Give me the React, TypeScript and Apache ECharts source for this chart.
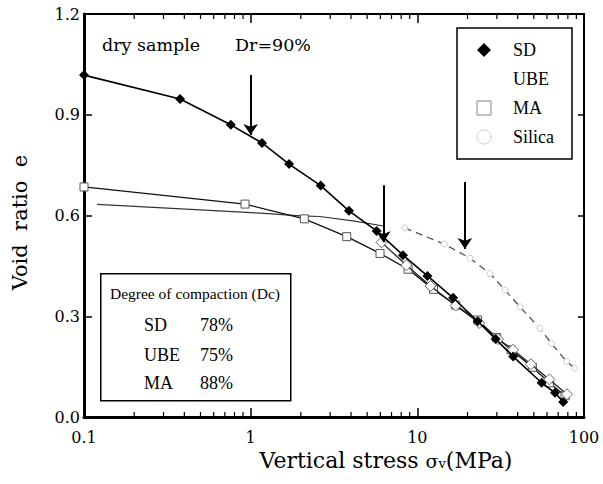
import React, { useEffect, useRef } from "react";
import * as echarts from "echarts";

// Vertical stress (MPa) / void ratio pairs
const sdStress = [0.1, 0.377, 0.76, 1.17, 1.7, 2.63, 3.89, 5.7, 8.2, 11.5, 16.4, 23, 29.5, 37.6, 55.7, 67, 75];
const sdVoid = [1.018, 0.947, 0.87, 0.816, 0.753, 0.689, 0.614, 0.554, 0.482, 0.42, 0.355, 0.285, 0.232, 0.18, 0.102, 0.072, 0.045];

const ubeStress = [6.1, 8.6, 12, 17, 23.5, 30.5, 37.5, 48, 62, 79];
const ubeVoid = [0.52, 0.452, 0.39, 0.332, 0.28, 0.232, 0.2, 0.157, 0.112, 0.068];

const maStress = [0.1, 0.925, 2.1, 3.77, 5.97, 8.8, 12.5, 17, 23, 29.9, 36.5, 49, 62, 77];
const maVoid = [0.685, 0.634, 0.59, 0.537, 0.487, 0.44, 0.38, 0.333, 0.289, 0.237, 0.2, 0.148, 0.102, 0.063];

const silicaLowStress = [0.12, 1.14, 2.0, 2.6, 4.2, 6.4];
const silicaLowVoid = [0.633, 0.607, 0.599, 0.597, 0.583, 0.568];
const silicaStress = [8.4, 14.5, 20.7, 27.3, 33.6, 41.3, 54.3, 63.8, 78.7, 88];
const silicaVoid = [0.563, 0.515, 0.473, 0.427, 0.378, 0.328, 0.264, 0.219, 0.165, 0.145];

// arrows marking yield points
const arrowX = [1, 6.25, 19.3];
const arrowTop = [1.018, 0.69, 0.7];
const arrowTip = [0.84, 0.52, 0.5];

// log-axis minor tick positions
const xMinorTicks = [0.2, 0.3, 0.4, 0.5, 0.6, 0.7, 0.8, 0.9, 2, 3, 4, 5, 6, 7, 8, 9, 20, 30, 40, 50, 60, 70, 80, 90];

const yTicks = { min: 0, max: 1.2, interval: 0.3 };

const dcMaterials = ["SD", "UBE", "MA"];
const dcValues = ["78%", "75%", "88%"];

const zip = (a: number[], b: number[]) => a.map((v, i) => [v, b[i]]);

export default function App() {
  const ref = useRef<HTMLDivElement>(null);
  useEffect(() => {
    if (!ref.current) return;
    const chart = echarts.init(ref.current, undefined, { renderer: "svg" });
    const serif = "DejaVu Serif";
    const times = "Liberation Serif";

    const dcGraphics: any[] = [
      {
        type: "rect",
        left: 100,
        top: 273,
        shape: { width: 190, height: 127 },
        style: { fill: "#fff", stroke: "#000", lineWidth: 1.5 },
        z: 10,
      },
      {
        type: "text",
        x: 195,
        y: 293,
        style: { text: "Degree of compaction (Dc)", fontFamily: times, fontSize: 15.5, fill: "#000", align: "center", verticalAlign: "middle" },
        z: 11,
      },
    ];
    const rowY = [325, 355, 383];
    dcMaterials.forEach((m, i) => {
      dcGraphics.push({
        type: "text",
        x: 144,
        y: rowY[i],
        style: { text: m, fontFamily: times, fontSize: 18, fill: "#000", align: "left", verticalAlign: "middle" },
        z: 11,
      });
      dcGraphics.push({
        type: "text",
        x: 200,
        y: rowY[i],
        style: { text: dcValues[i], fontFamily: times, fontSize: 18, fill: "#000", align: "left", verticalAlign: "middle" },
        z: 11,
      });
    });

    const option: any = {
      animation: false,
      backgroundColor: "#fff",
      textStyle: { fontFamily: serif },
      grid: { left: 84, right: 19, top: 14, bottom: 67, containLabel: false },
      legend: {
        orient: "vertical",
        left: 457,
        top: 28,
        padding: [13, 18, 13, 19],
        itemGap: 11,
        itemWidth: 14,
        itemHeight: 14,
        borderColor: "#000",
        borderWidth: 1.5,
        backgroundColor: "#fff",
        selectedMode: false,
        textStyle: { fontFamily: times, fontSize: 18, color: "#000", padding: [0, 0, 0, 17] },
        data: [
          { name: "SD", icon: "diamond", itemStyle: { color: "#000" } },
          { name: "UBE", icon: "diamond", itemStyle: { opacity: 0 } },
          { name: "MA", icon: "rect", itemStyle: { color: "#fff", borderColor: "#888", borderWidth: 1 } },
          { name: "Silica", icon: "circle", itemStyle: { color: "#fff", borderColor: "#999", borderWidth: 1, borderType: "dotted" } },
        ],
      },
      xAxis: [
        {
          type: "log",
          logBase: 10,
          min: 0.1,
          max: 100,
          position: "bottom",
          name: "Vertical stress {s|σ}{v|v}(MPa)",
          nameLocation: "middle",
          nameGap: 31,
          nameTextStyle: {
            fontFamily: serif,
            fontSize: 22,
            color: "#000",
            padding: [0, 0, 0, 104],
            rich: {
              s: { fontFamily: serif, fontSize: 19, color: "#000" },
              v: { fontFamily: serif, fontSize: 13, color: "#000", padding: [6, 0, 0, 0] },
            },
          },
          axisLine: { show: true, onZero: false, lineStyle: { color: "#000", width: 3 } },
          axisTick: { show: true, inside: true, length: 9, lineStyle: { color: "#000", width: 1.5 } },
          axisLabel: {
            show: true,
            margin: 12,
            fontFamily: serif,
            fontSize: 16,
            color: "#000",
            formatter: (v: number) => (v < 1 ? v.toFixed(1) : String(Math.round(v))),
          },
          splitLine: { show: false },
          minorTick: { show: false },
        },
        {
          type: "log",
          logBase: 10,
          min: 0.1,
          max: 100,
          position: "top",
          axisLine: { show: true, onZero: false, lineStyle: { color: "#000", width: 2 } },
          axisTick: { show: true, inside: true, length: 9, lineStyle: { color: "#000", width: 1.5 } },
          axisLabel: { show: false },
          splitLine: { show: false },
        },
      ],
      yAxis: [
        {
          type: "value",
          min: yTicks.min,
          max: yTicks.max,
          interval: yTicks.interval,
          position: "left",
          name: "Void  ratio  e",
          nameLocation: "middle",
          nameGap: 54,
          nameTextStyle: { fontFamily: serif, fontSize: 21, color: "#000", padding: [0, 14, 0, 0] },
          axisLine: { show: true, onZero: false, lineStyle: { color: "#000", width: 3 } },
          axisTick: { show: true, inside: true, length: 8, lineStyle: { color: "#000", width: 1.5 } },
          axisLabel: { show: true, margin: 4, fontFamily: serif, fontSize: 16, color: "#000", formatter: (v: number) => v.toFixed(1) },
          splitLine: { show: false },
        },
        {
          type: "value",
          min: yTicks.min,
          max: yTicks.max,
          interval: yTicks.interval,
          position: "right",
          axisLine: { show: true, onZero: false, lineStyle: { color: "#000", width: 2 } },
          axisTick: { show: true, inside: true, length: 6, lineStyle: { color: "#000", width: 1.5 } },
          axisLabel: { show: false },
          splitLine: { show: false },
        },
      ],
      series: [
        {
          type: "custom",
          name: "minorTicks",
          silent: true,
          clip: false,
          data: xMinorTicks.map((v) => [v, 0]),
          renderItem: (params: any, api: any) => {
            const x = api.value(0);
            const b = api.coord([x, yTicks.min]);
            const t = api.coord([x, yTicks.max]);
            return {
              type: "group",
              children: [
                { type: "line", shape: { x1: b[0], y1: b[1], x2: b[0], y2: b[1] - 5 }, style: { stroke: "#000", lineWidth: 1.2 } },
                { type: "line", shape: { x1: t[0], y1: t[1], x2: t[0], y2: t[1] + 5 }, style: { stroke: "#000", lineWidth: 1.2 } },
              ],
            };
          },
          z: 1,
        },
        {
          type: "line",
          name: "Silica",
          data: zip(silicaLowStress, silicaLowVoid),
          showSymbol: false,
          lineStyle: { color: "#333", width: 1.2 },
          z: 2,
        },
        {
          type: "line",
          name: "Silica",
          data: zip(silicaStress, silicaVoid),
          symbol: "circle",
          symbolSize: 6,
          itemStyle: { color: "#fff", borderColor: "#ccc", borderWidth: 1 },
          lineStyle: { color: "#555", width: 1.3, type: [7, 5] },
          z: 2,
        },
        {
          type: "line",
          name: "MA",
          data: zip(maStress, maVoid),
          symbol: "rect",
          symbolSize: 8,
          itemStyle: { color: "#fff", borderColor: "#555", borderWidth: 1 },
          lineStyle: { color: "#111", width: 1.3 },
          z: 3,
        },
        {
          type: "line",
          name: "UBE",
          data: zip(ubeStress, ubeVoid),
          symbol: "diamond",
          symbolSize: 11,
          itemStyle: { color: "#fff", borderColor: "#666", borderWidth: 1 },
          lineStyle: { color: "#222", width: 1.3 },
          z: 4,
        },
        {
          type: "line",
          name: "SD",
          data: zip(sdStress, sdVoid),
          symbol: "diamond",
          symbolSize: 10,
          itemStyle: { color: "#000" },
          lineStyle: { color: "#000", width: 1.6 },
          z: 5,
          markLine: {
            silent: true,
            symbol: ["none", "arrow"],
            symbolSize: 11,
            label: { show: false },
            lineStyle: { color: "#000", width: 2, type: "solid" },
            data: arrowX.map((x, i) => [
              { coord: [x, arrowTop[i]] },
              { coord: [x, arrowTip[i]] },
            ]),
          },
        },
      ],
      graphic: [
        {
          type: "text",
          x: 102,
          y: 45,
          style: { text: "dry sample", fontFamily: serif, fontSize: 17.5, fill: "#000", align: "left", verticalAlign: "middle" },
        },
        {
          type: "text",
          x: 235,
          y: 45,
          style: { text: "Dr=90%", fontFamily: serif, fontSize: 17.5, fill: "#000", align: "left", verticalAlign: "middle" },
        },
        ...dcGraphics,
      ],
    };
    chart.setOption(option);
    return () => chart.dispose();
  }, []);
  return <div ref={ref} style={{ position: "absolute", left: 0, top: 0, width: 603, height: 484 }} />;
}
